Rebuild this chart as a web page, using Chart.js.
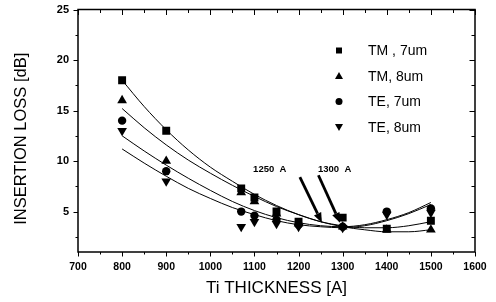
<!DOCTYPE html>
<html><head><meta charset="utf-8">
<script src="https://cdn.jsdelivr.net/npm/chart.js@4.4.1/dist/chart.umd.min.js"></script>
<style>html,body{margin:0;padding:0;background:#fff}#wrap{width:496px;height:302px}</style>
</head><body><div id="wrap"><canvas id="c" width="496" height="302"></canvas></div>
<script>
// ---- data ----
const thickness = [800, 900, 1070, 1100, 1150, 1200, 1300, 1400, 1500];
const seriesLabels = ['TM , 7um', 'TM, 8um', 'TE, 7um', 'TE, 8um'];
const lossTM7 = [18.0, 13.0, 7.3, 6.4, 5.0, 4.0, 4.4, 3.3, 4.1];
const lossTM8 = [16.0, 10.0, 6.9, 6.0, 4.8, 3.8, 3.5, 3.2, 3.2];
const lossTE7 = [14.0, 9.0, 5.0, 4.6, 4.2, 3.7, 3.5, 5.0, 5.3];
const lossTE8 = [13.0, 8.0, 3.5, 4.0, 3.8, 3.5, 3.4, 4.7, 4.9];

const fitX   = [800, 850, 900, 950, 1000, 1050, 1100, 1150, 1200, 1250, 1300, 1350, 1400, 1450, 1500];
const fitTM7 = [18.0, 15.4, 13.1, 11.1, 9.4, 8.0, 6.7, 5.6, 4.7, 4.0, 3.6, 3.4, 3.4, 3.6, 4.0];
const fitTM8 = [15.2, 13.3, 11.6, 10.1, 8.8, 7.6, 6.5, 5.5, 4.7, 4.0, 3.5, 3.2, 3.0, 3.0, 3.2];
const fitTE7 = [12.5, 11.0, 9.6, 8.3, 7.1, 6.0, 5.1, 4.4, 3.9, 3.6, 3.5, 3.7, 4.2, 4.9, 5.9];
const fitTE8 = [11.2, 9.8, 8.5, 7.3, 6.3, 5.4, 4.7, 4.1, 3.7, 3.5, 3.4, 3.6, 4.1, 4.8, 5.7];

const xTicks = [700, 800, 900, 1000, 1100, 1200, 1300, 1400, 1500, 1600];
const yTicks = [5, 10, 15, 20, 25];
const xTitle = 'Ti THICKNESS [A]';
const yTitle = 'INSERTION LOSS [dB]';

const annoText = ['1250  A', '1300  A'];
const annoTextX = [1097, 1244];
const annoTextY = [9.2, 9.2];
const arrowFromX = [1203, 1245];
const arrowFromY = [8.4, 8.6];
const arrowToX = [1253, 1294];
const arrowToY = [3.9, 3.9];

// ---- chart ----
const FONT = "'Liberation Sans', Arial, sans-serif";
const pts = (xs, ys) => xs.map((x, i) => ({x: x, y: ys[i]}));
const fits = [fitTM7, fitTM8, fitTE7, fitTE8];
const series = [lossTM7, lossTM8, lossTE7, lossTE8];
const styles = [
  {pointStyle: 'rect', r: 5.6, rot: 0},
  {pointStyle: 'triangle', r: 5.6, rot: 0},
  {pointStyle: 'circle', r: 4.2, rot: 0},
  {pointStyle: 'triangle', r: 5.6, rot: 180}
];

const datasets = [];
fits.forEach((f, i) => datasets.push({
  label: 'fit ' + seriesLabels[i], data: pts(fitX, f), showLine: true,
  borderColor: '#000', borderWidth: 1, pointRadius: 0, tension: 0.4,
  cubicInterpolationMode: 'monotone', fill: false
}));
series.forEach((s, i) => datasets.push({
  label: seriesLabels[i], data: pts(thickness, s), showLine: false,
  pointStyle: styles[i].pointStyle, pointRadius: styles[i].r, pointRotation: styles[i].rot,
  backgroundColor: '#000', borderColor: '#000', borderWidth: 0
}));

const framePlugin = {
  id: 'frame',
  afterDatasetsDraw(chart) {
    const ctx = chart.ctx, a = chart.chartArea, xs = chart.scales.x, ys = chart.scales.y;
    ctx.save();
    ctx.strokeStyle = '#000';
    ctx.lineWidth = 1.5;
    ctx.strokeRect(a.left, a.top, a.right - a.left, a.bottom - a.top);
    ctx.lineWidth = 1;
    ctx.beginPath();
    for (let v = xs.min; v <= xs.max; v += 50) {
      const p = Math.round(xs.getPixelForValue(v)) + 0.5;
      const major = v % 100 === 0;
      const L = major ? 4.5 : 2.5;
      ctx.moveTo(p, a.bottom); ctx.lineTo(p, a.bottom + L);
      ctx.moveTo(p, a.top); ctx.lineTo(p, a.top + L + 1);
    }
    for (let v = 2.5; v <= ys.max; v += 2.5) {
      const p = Math.round(ys.getPixelForValue(v)) + 0.5;
      const major = v % 5 === 0;
      const L = major ? 4.5 : 2.5;
      ctx.moveTo(a.left, p); ctx.lineTo(a.left - L, p);
      ctx.moveTo(a.right, p); ctx.lineTo(a.right - L - 1, p);
    }
    ctx.stroke();
    ctx.restore();
  },
  afterDraw(chart) {
    const ctx = chart.ctx, a = chart.chartArea, xs = chart.scales.x, ys = chart.scales.y;
    ctx.save();
    // y title
    ctx.fillStyle = '#000';
    ctx.font = '16.5px ' + FONT;
    ctx.textAlign = 'center'; ctx.textBaseline = 'middle';
    ctx.translate(21, (a.top + a.bottom) / 2 + 8);
    ctx.rotate(-Math.PI / 2);
    ctx.fillText(yTitle, 0, 0);
    ctx.restore();

    // legend
    ctx.save();
    ctx.fillStyle = '#000';
    ctx.font = '14px ' + FONT;
    ctx.textAlign = 'left'; ctx.textBaseline = 'middle';
    const lx = a.right - 136, ly0 = a.top + 41, dy = 25.5;
    seriesLabels.forEach((lab, i) => {
      const y = ly0 + i * dy;
      ctx.beginPath();
      if (i === 0) { ctx.rect(lx - 3, y - 3, 6, 6); }
      else if (i === 1) { ctx.moveTo(lx, y - 4); ctx.lineTo(lx + 4, y + 3); ctx.lineTo(lx - 4, y + 3); ctx.closePath(); }
      else if (i === 2) { ctx.arc(lx, y, 3.5, 0, Math.PI * 2); }
      else { ctx.moveTo(lx, y + 4); ctx.lineTo(lx + 4, y - 3); ctx.lineTo(lx - 4, y - 3); ctx.closePath(); }
      ctx.fill();
      ctx.fillText(lab, lx + 29, y + 1);
    });
    ctx.restore();

    // annotations
    ctx.save();
    ctx.fillStyle = '#000'; ctx.strokeStyle = '#000';
    ctx.font = 'bold 9.5px ' + FONT;
    ctx.textAlign = 'left'; ctx.textBaseline = 'middle';
    annoText.forEach((t, i) => {
      ctx.fillText(t, xs.getPixelForValue(annoTextX[i]), ys.getPixelForValue(annoTextY[i]));
      const x0 = xs.getPixelForValue(arrowFromX[i]), y0 = ys.getPixelForValue(arrowFromY[i]);
      const x1 = xs.getPixelForValue(arrowToX[i]), y1 = ys.getPixelForValue(arrowToY[i]);
      const ang = Math.atan2(y1 - y0, x1 - x0);
      const hl = 10, hw = 4;
      const bx = x1 - Math.cos(ang) * hl, by = y1 - Math.sin(ang) * hl;
      ctx.lineWidth = 2.8;
      ctx.beginPath(); ctx.moveTo(x0, y0); ctx.lineTo(bx, by); ctx.stroke();
      ctx.beginPath();
      ctx.moveTo(x1, y1);
      ctx.lineTo(bx + Math.sin(ang) * hw, by - Math.cos(ang) * hw);
      ctx.lineTo(bx - Math.sin(ang) * hw, by + Math.cos(ang) * hw);
      ctx.closePath(); ctx.fill();
    });
    ctx.restore();
  }
};

new Chart(document.getElementById('c'), {
  type: 'scatter',
  data: {datasets: datasets},
  options: {
    responsive: false, animation: false, devicePixelRatio: 1,
    layout: {padding: {top: 9.5, right: 21, left: 0, bottom: 0}, autoPadding: false},
    plugins: {legend: {display: false}, tooltip: {enabled: false}},
    scales: {
      x: {
        type: 'linear', min: 700, max: 1600,
        afterBuildTicks: s => { s.ticks = xTicks.map(v => ({value: v})); },
        afterFit: s => { s.height = 50; s.paddingLeft = 0; s.paddingRight = 0; },
        grid: {display: false, drawTicks: false}, border: {display: false},
        ticks: {color: '#000', padding: 9, maxRotation: 0, autoSkip: false,
                callback: v => String(v),
                font: {family: FONT, size: 10.5, weight: 'bold'}},
        title: {display: true, text: xTitle, color: '#000',
                font: {family: FONT, size: 17}, padding: {top: 0, bottom: 3}}
      },
      y: {
        type: 'linear', min: 1, max: 25,
        afterBuildTicks: s => { s.ticks = yTicks.map(v => ({value: v})); },
        afterFit: s => { s.width = 78; s.paddingTop = 0; s.paddingBottom = 0; },
        grid: {display: false, drawTicks: false}, border: {display: false},
        ticks: {color: '#000', padding: 9, callback: v => String(v),
                font: {family: FONT, size: 11, weight: 'bold'}}
      }
    }
  },
  plugins: [framePlugin]
});
</script></body></html>
